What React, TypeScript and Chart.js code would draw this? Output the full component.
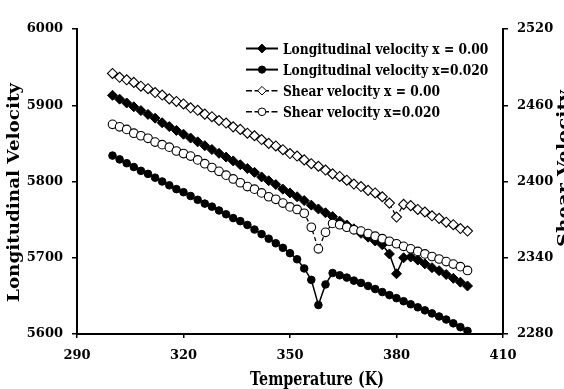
import React, { useEffect, useRef } from "react";
import { Chart, registerables } from "chart.js";

Chart.register(...registerables);

// ---------- data ----------
const temperatures = [
  300, 302, 304, 306, 308, 310, 312, 314, 316, 318, 320, 322, 324, 326, 328, 330, 332, 334, 336, 338,
  340, 342, 344, 346, 348, 350, 352, 354, 356, 358, 360, 362, 364, 366, 368, 370, 372, 374, 376,
  378, 380, 382, 384, 386, 388, 390, 392, 394, 396, 398, 400,
];

const longitudinalX000 = [
  5913, 5908, 5903, 5898, 5893, 5888, 5883, 5877, 5872, 5867, 5862, 5857, 5852, 5847, 5842, 5837, 5832, 5827, 5822, 5817,
  5812, 5806, 5801, 5796, 5790, 5785, 5780, 5775, 5769, 5764, 5759, 5754, 5748, 5743, 5738, 5732, 5727, 5722, 5717,
  5705, 5679, 5700, 5701, 5697, 5692, 5687, 5683, 5678, 5673, 5668, 5663,
];

const longitudinalX020 = [
  5834, 5829, 5824, 5819, 5814, 5810, 5805, 5800, 5795, 5790, 5786, 5781, 5776, 5771, 5767, 5762, 5757, 5752, 5748, 5743,
  5737, 5731, 5725, 5719, 5713, 5706, 5698, 5686, 5671, 5638, 5665, 5680, 5677, 5674, 5670, 5667, 5663, 5659, 5655,
  5651, 5647, 5643, 5639, 5635, 5631, 5627, 5623, 5619, 5614, 5609, 5604,
];

const shearX000 = [
  2485, 2482, 2480, 2478, 2475, 2473, 2470, 2468, 2465, 2463, 2461, 2458, 2456, 2453, 2451, 2448, 2446, 2443, 2441, 2438,
  2436, 2433, 2430, 2428, 2425, 2422, 2420, 2417, 2414, 2412, 2409, 2406, 2404, 2401, 2398, 2396, 2393, 2391, 2388,
  2383, 2372, 2382, 2381, 2378, 2376, 2373, 2371, 2368, 2366, 2363, 2361,
];

const shearX020 = [
  2445, 2443, 2441, 2438, 2436, 2434, 2431, 2429, 2427, 2424, 2422, 2420, 2417, 2414, 2411, 2408, 2405, 2402, 2399, 2396,
  2394, 2391, 2388, 2386, 2383, 2380, 2378, 2375, 2364, 2347, 2360, 2367, 2366, 2364, 2362, 2361, 2359, 2357, 2355,
  2353, 2351, 2349, 2347, 2345, 2343, 2341, 2339, 2337, 2335, 2333, 2330,
];

const xTicks = [290, 320, 350, 380, 410];
const leftTicks = [5600, 5700, 5800, 5900, 6000];
const rightTicks = [2280, 2340, 2400, 2460, 2520];

const seriesLabels = [
  "Longitudinal velocity x = 0.00",
  "Longitudinal velocity x=0.020",
  "Shear velocity x = 0.00",
  "Shear velocity x=0.020",
];

const xTitle = "Temperature (K)";
const leftTitle = "Longitudinal Velocity";
const rightTitle = "Shear Velocity";

// ---------- helpers ----------
const FAMILY = "'DejaVu Serif', 'Liberation Serif', serif";

function toPoints(values: number[]) {
  return values.map((v, i) => ({ x: temperatures[i], y: v }));
}

function drawFitted(
  ctx: CanvasRenderingContext2D,
  text: string,
  x: number,
  y: number,
  rot: number,
  size: number,
  width: number,
  align: CanvasTextAlign = "center"
) {
  ctx.save();
  ctx.font = `bold ${size}px ${FAMILY}`;
  ctx.translate(x, y);
  ctx.rotate(rot);
  const w = ctx.measureText(text).width;
  ctx.scale(width / w, 1);
  ctx.textAlign = align;
  ctx.textBaseline = "alphabetic";
  ctx.fillStyle = "#000";
  ctx.fillText(text, 0, 0);
  ctx.restore();
}

function drawMarker(ctx: CanvasRenderingContext2D, kind: string, x: number, y: number, r: number, filled: boolean) {
  ctx.beginPath();
  if (kind === "diamond") {
    ctx.moveTo(x - r, y);
    ctx.lineTo(x, y - r);
    ctx.lineTo(x + r, y);
    ctx.lineTo(x, y + r);
    ctx.closePath();
  } else {
    ctx.arc(x, y, r, 0, Math.PI * 2);
  }
  ctx.fillStyle = filled ? "#000" : "#fff";
  ctx.fill();
  ctx.lineWidth = 1;
  ctx.strokeStyle = "#000";
  ctx.stroke();
}

const legendStyles = [
  { kind: "diamond", filled: true, dashed: false, r: 4.4 },
  { kind: "circle", filled: true, dashed: false, r: 3.6 },
  { kind: "diamond", filled: false, dashed: true, r: 4.3 },
  { kind: "circle", filled: false, dashed: true, r: 3.8 },
];

const textPlugin = {
  id: "customText",
  afterDraw(chart: any) {
    const ctx: CanvasRenderingContext2D = chart.ctx;
    ctx.save();
    // axis titles
    drawFitted(ctx, leftTitle, 19, 192.5, -Math.PI / 2, 16, 219);
    drawFitted(ctx, rightTitle, 569, 168.5, -Math.PI / 2, 16, 157);
    drawFitted(ctx, xTitle, 317, 384.5, 0, 18, 134);

    // legend
    ctx.font = `bold 14px ${FAMILY}`;
    const ref = ctx.measureText(seriesLabels[3]).width;
    const sx = 157 / ref;
    seriesLabels.forEach((label, i) => {
      const y = 48.5 + 21.1 * i;
      const st = legendStyles[i];
      ctx.save();
      ctx.strokeStyle = "#000";
      ctx.lineWidth = st.dashed ? 1.6 : 2;
      ctx.setLineDash(st.dashed ? [6, 2.5] : []);
      ctx.beginPath();
      ctx.moveTo(246, y);
      ctx.lineTo(278, y);
      ctx.stroke();
      ctx.setLineDash([]);
      drawMarker(ctx, st.kind, 262, y, st.r, st.filled);
      ctx.restore();

      ctx.save();
      ctx.font = `bold 14px ${FAMILY}`;
      ctx.translate(283, y + 5);
      ctx.scale(sx, 1);
      ctx.textAlign = "left";
      ctx.textBaseline = "alphabetic";
      ctx.fillStyle = "#000";
      ctx.fillText(label, 0, 0);
      ctx.restore();
    });
    ctx.restore();
  },
};

const tickFont = { family: FAMILY, size: 13, weight: "bold" as const };

export default function App() {
  const canvasRef = useRef<HTMLCanvasElement | null>(null);

  useEffect(() => {
    const canvas = canvasRef.current;
    if (!canvas) return;
    const chart = new Chart(canvas, {
      type: "line",
      data: {
        datasets: [
          {
            label: seriesLabels[0],
            data: toPoints(longitudinalX000),
            yAxisID: "y",
            borderColor: "#000",
            borderWidth: 1.5,
            pointStyle: "rectRot",
            pointRadius: 5,
            pointBackgroundColor: "#000",
            pointBorderColor: "#000",
            pointBorderWidth: 1,
            tension: 0,
            order: 3,
          },
          {
            label: seriesLabels[1],
            data: toPoints(longitudinalX020),
            yAxisID: "y",
            borderColor: "#000",
            borderWidth: 1.5,
            pointStyle: "circle",
            pointRadius: 3.8,
            pointBackgroundColor: "#000",
            pointBorderColor: "#000",
            pointBorderWidth: 1,
            tension: 0,
            order: 2,
          },
          {
            label: seriesLabels[2],
            data: toPoints(shearX000),
            yAxisID: "y2",
            borderColor: "#000",
            borderWidth: 1.3,
            borderDash: [4, 3],
            pointStyle: "rectRot",
            pointRadius: 5,
            pointBackgroundColor: "#fff",
            pointBorderColor: "#000",
            pointBorderWidth: 1.1,
            tension: 0,
            order: 1,
          },
          {
            label: seriesLabels[3],
            data: toPoints(shearX020),
            yAxisID: "y2",
            borderColor: "#000",
            borderWidth: 1.3,
            borderDash: [4, 3],
            pointStyle: "circle",
            pointRadius: 4.3,
            pointBackgroundColor: "#fff",
            pointBorderColor: "#000",
            pointBorderWidth: 1.1,
            tension: 0,
            order: 0,
          },
        ],
      },
      options: {
        responsive: false,
        animation: false,
        devicePixelRatio: 1,
        layout: { padding: { top: 29, left: 0, right: 0, bottom: 0 } },
        plugins: {
          legend: { display: false },
          tooltip: { enabled: false },
          title: { display: false },
        },
        scales: {
          x: {
            type: "linear",
            position: "bottom",
            min: xTicks[0],
            max: xTicks[xTicks.length - 1],
            afterBuildTicks: (s: any) => {
              s.ticks = xTicks.map((v) => ({ value: v }));
            },
            ticks: {
              color: "#000",
              font: tickFont,
              padding: 10,
              maxRotation: 0,
              callback: (v: any) => String(v),
            },
            grid: {
              drawOnChartArea: false,
              drawTicks: true,
              tickLength: 4,
              color: "#000",
              lineWidth: 1.5,
            },
            border: { display: true, color: "#000", width: 2 },
            afterFit: (s: any) => {
              s.height = 55;
            },
          },
          y: {
            type: "linear",
            position: "left",
            min: leftTicks[0],
            max: leftTicks[leftTicks.length - 1],
            afterBuildTicks: (s: any) => {
              s.ticks = leftTicks.map((v) => ({ value: v }));
            },
            ticks: {
              color: "#000",
              font: tickFont,
              padding: 9,
              callback: (v: any) => String(v),
            },
            grid: {
              drawOnChartArea: false,
              drawTicks: true,
              tickLength: 5,
              color: "#000",
              lineWidth: 1.5,
            },
            border: { display: true, color: "#000", width: 2 },
            afterFit: (s: any) => {
              s.width = 77;
            },
          },
          y2: {
            type: "linear",
            position: "right",
            min: rightTicks[0],
            max: rightTicks[rightTicks.length - 1],
            afterBuildTicks: (s: any) => {
              s.ticks = rightTicks.map((v) => ({ value: v }));
            },
            ticks: {
              color: "#000",
              font: tickFont,
              padding: 9,
              callback: (v: any) => String(v),
            },
            grid: {
              drawOnChartArea: false,
              drawTicks: true,
              tickLength: 5,
              color: "#000",
              lineWidth: 1.5,
            },
            border: { display: true, color: "#000", width: 2 },
            afterFit: (s: any) => {
              s.width = 61;
            },
          },
        },
      },
      plugins: [textPlugin],
    });
    return () => {
      chart.destroy();
    };
  }, []);

  return (
    <div style={{ position: "absolute", left: 0, top: 0, width: 564, height: 389, background: "#fff", overflow: "hidden" }}>
      <canvas ref={canvasRef} width={564} height={389} style={{ display: "block", width: 564, height: 389 }} />
    </div>
  );
}
